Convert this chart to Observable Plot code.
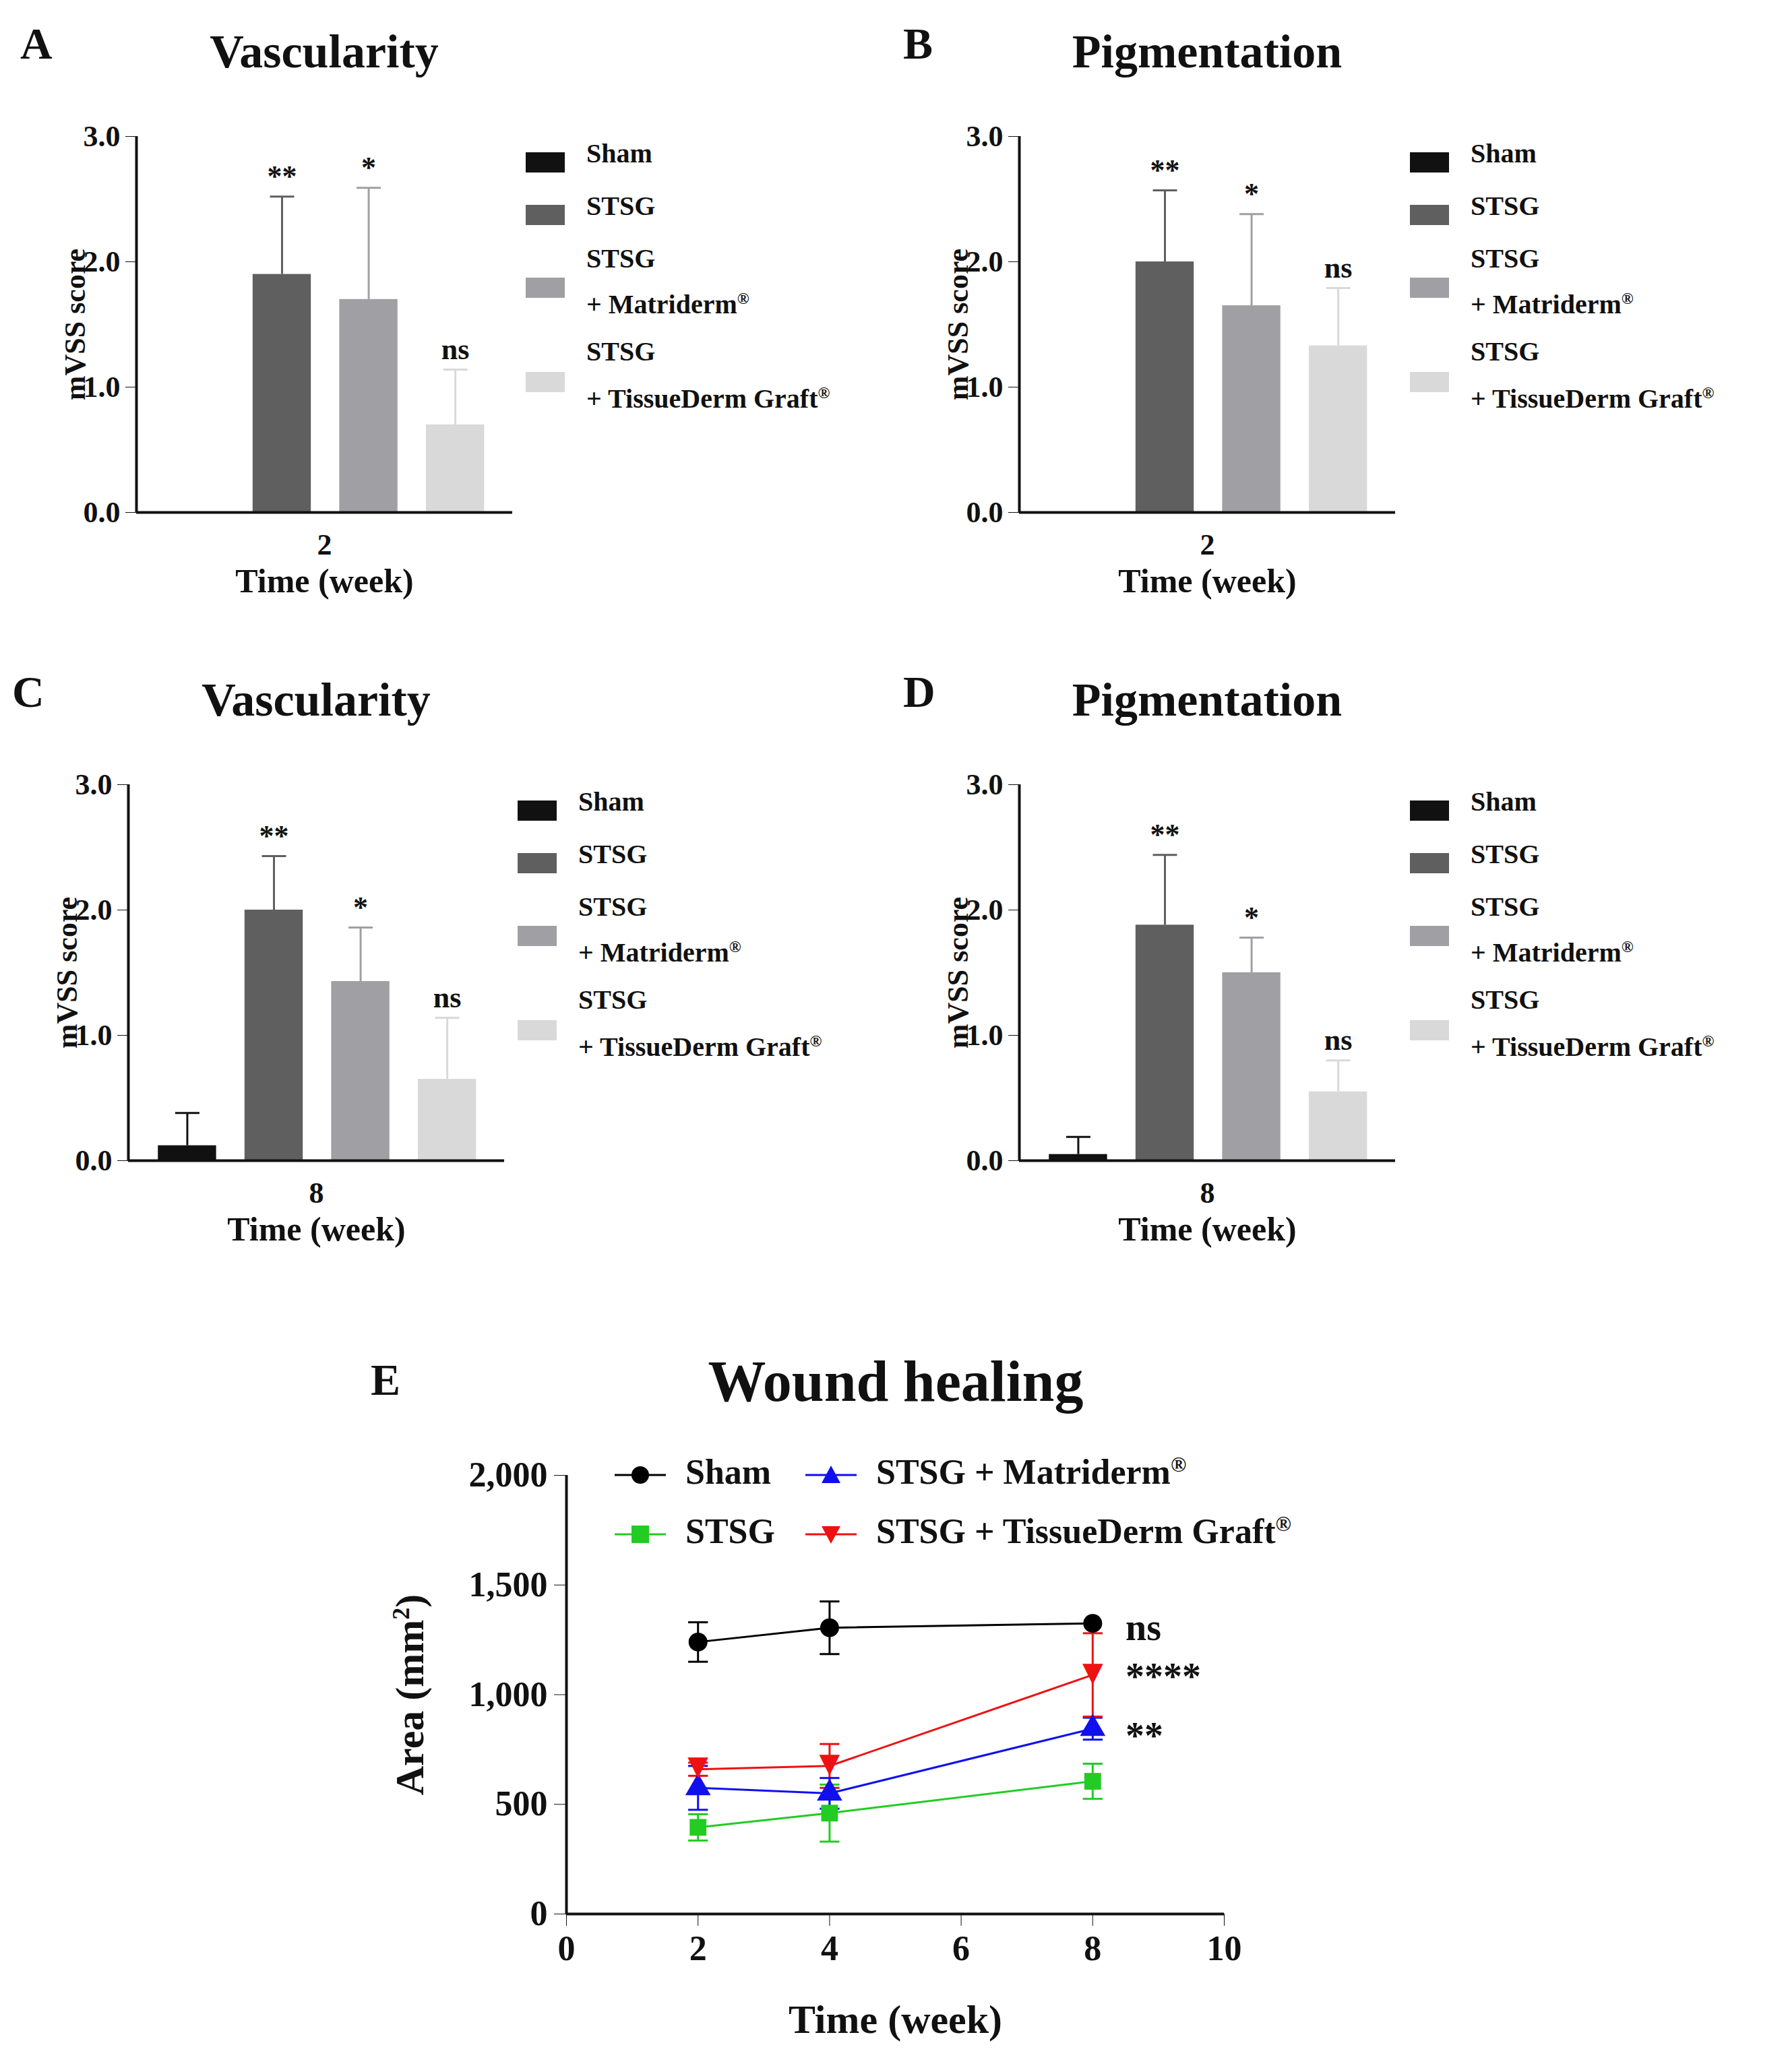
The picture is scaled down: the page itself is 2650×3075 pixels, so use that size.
<!DOCTYPE html>
<html><head><meta charset="utf-8">
<script src="https://cdn.jsdelivr.net/npm/d3@7"></script>
<script src="https://cdn.jsdelivr.net/npm/@observablehq/plot@0.6"></script>
<style>
body{margin:0;background:#fff;font-family:"Liberation Serif",serif;}
#root{position:relative;width:2650px;height:3075px;}
.abs{position:absolute;font-weight:bold;color:#111;white-space:nowrap;}
.ctr{transform:translateX(-50%);}
svg{overflow:visible}
</style></head><body><div id="root"></div>
<script>
const groups = ["Sham","STSG","STSG + Matriderm®","STSG + TissueDerm Graft®"];
const barColors = ["#111111","#5f5f5f","#a0a0a4","#d9d9d9"];
const vasc2Mean = [0, 1.9, 1.7, 0.7];
const vasc2Err  = [0, 0.62, 0.89, 0.44];
const vasc2Sig  = ["", "**", "*", "ns"];
const pig2Mean  = [0, 2.0, 1.65, 1.33];
const pig2Err   = [0, 0.57, 0.73, 0.46];
const pig2Sig   = ["", "**", "*", "ns"];
const vasc8Mean = [0.12, 2.0, 1.43, 0.65];
const vasc8Err  = [0.26, 0.43, 0.43, 0.49];
const vasc8Sig  = ["", "**", "*", "ns"];
const pig8Mean  = [0.05, 1.88, 1.5, 0.55];
const pig8Err   = [0.14, 0.56, 0.28, 0.25];
const pig8Sig   = ["", "**", "*", "ns"];
const weeks = [2, 4, 8];
const woundSeries = ["Sham","STSG","STSG + Matriderm®","STSG + TissueDerm Graft®"];
const woundColors = ["#000000","#22cc22","#1010ee","#ee1111"];
const woundMean = [[1240,1305,1325],[395,460,605],[575,550,845],[660,675,1090]];
const woundErr  = [[90,120,0],[60,130,80],[100,70,50],[30,100,190]];
const woundSig  = ["ns","","**","****"];
const yTicksBar = [0,1,2,3];
const yTicksE = [0,500,1000,1500,2000];
const xTicksE = [0,2,4,6,8,10];

const root = document.getElementById("root");
function addDiv(html, x, y, size, cls="", extra=""){
  const d=document.createElement("div"); d.className="abs "+cls; d.innerHTML=html;
  d.style.cssText+=`left:${x}px;top:${y}px;font-size:${size}px;${extra}`;
  root.appendChild(d); return d;
}
function sup(t){return t.replace("®","<sup style='font-size:0.6em'>®</sup>");}

function barPanel(letter,title,axisX,topY,mean,err,sig,week,legX){
  const rows = groups.map((g,i)=>({i,g,m:mean[i],e:err[i],s:sig[i],c:barColors[i]}));
  const ml=130, mt=40, mr=10, mb=200, pw=558, ph=558;
  const p = Plot.plot({
    width:pw+ml+mr, height:ph+mt+mb, marginLeft:ml, marginTop:mt, marginRight:mr, marginBottom:mb,
    style:{fontFamily:"Liberation Serif", fontWeight:"bold", fontSize:"44px", color:"#111", background:"transparent"},
    x:{domain:[-0.68,3.66], axis:null},
    y:{domain:[0,3]},
    marks:[
      Plot.rectY(rows.filter(d=>d.m>0),{x1:d=>d.i-0.336,x2:d=>d.i+0.336,y1:0,y2:"m",fill:"c"}),
      Plot.ruleX(rows.filter(d=>d.e>0),{x:"i",y1:"m",y2:d=>d.m+d.e,stroke:"c",strokeWidth:3}),
      Plot.link(rows.filter(d=>d.e>0),{x1:d=>d.i-0.14,x2:d=>d.i+0.14,y1:d=>d.m+d.e,y2:d=>d.m+d.e,stroke:"c",strokeWidth:3}),
      Plot.text(rows,{x:"i",y:d=>d.m+d.e,text:"s",dy:-30,fontSize:44,fontWeight:d=>d.s==="ns"?"bold":"normal",fill:"#111"}),
      Plot.axisY({ticks:yTicksBar,tickSize:16,tickWidth:3,tickPadding:8,label:"mVSS score",labelAnchor:"center",labelArrow:"none",labelOffset:108,fontSize:44}),
      Plot.ruleX([-0.68],{stroke:"#111",strokeWidth:4}),
      Plot.ruleY([0],{stroke:"#111",strokeWidth:4}),
      Plot.text([week],{frameAnchor:"bottom",dy:62,text:d=>d,fontSize:44,fill:"#111"}),
      Plot.text(["Time (week)"],{frameAnchor:"bottom",dy:118,fontSize:50,fill:"#111"})
    ]
  });
  p.style.position="absolute"; p.style.left=(axisX-ml)+"px"; p.style.top=(topY-mt)+"px";
  root.appendChild(p);
  addDiv(letter, axisX-172, topY-175, 66);
  addDiv(title, axisX+279, topY-165, 70, "ctr");
  const ys=[[topY+26],[topY+104],[topY+182,topY+250],[topY+320,topY+390]];
  const sy=[topY+24,topY+102,topY+210,topY+350];
  groups.forEach((g,i)=>{
    const sw=document.createElement("div");
    sw.style.cssText=`position:absolute;left:${legX}px;top:${sy[i]}px;width:58px;height:30px;background:${barColors[i]}`;
    root.appendChild(sw);
    if(i<2) addDiv(g, legX+90, ys[i][0]-24, 40);
    else { addDiv("STSG", legX+90, ys[i][0]-24, 40); addDiv(sup(g.replace("STSG ","")), legX+90, ys[i][1]-24, 40); }
  });
}
barPanel("A","Vascularity",202,202,vasc2Mean,vasc2Err,vasc2Sig,"2",780);
barPanel("B","Pigmentation",1512,202,pig2Mean,pig2Err,pig2Sig,"2",2092);
barPanel("C","Vascularity",190,1164,vasc8Mean,vasc8Err,vasc8Sig,"8",768);
barPanel("D","Pigmentation",1512,1164,pig8Mean,pig8Err,pig8Sig,"8",2092);

// Panel E
const pts=[]; woundSeries.forEach((s,k)=>weeks.forEach((w,j)=>pts.push({s,k,w,m:woundMean[k][j],e:woundErr[k][j],c:woundColors[k]})));
const ml=200, mt=40, mr=40, mb=250;
const symbols=["circle","square","triangle",null];
const pE = Plot.plot({
  width:976+ml+mr, height:651+mt+mb, marginLeft:ml, marginTop:mt, marginRight:mr, marginBottom:mb,
  style:{fontFamily:"Liberation Serif", fontWeight:"bold", fontSize:"52px", color:"#111", background:"transparent"},
  x:{domain:[0,10]}, y:{domain:[0,2000]},
  marks:[
    Plot.ruleX(pts.filter(d=>d.e>0),{x:"w",y1:d=>d.m-d.e,y2:d=>d.m+d.e,stroke:"c",strokeWidth:3}),
    Plot.link(pts.filter(d=>d.e>0),{x1:d=>d.w-0.15,x2:d=>d.w+0.15,y1:d=>d.m+d.e,y2:d=>d.m+d.e,stroke:"c",strokeWidth:3}),
    Plot.link(pts.filter(d=>d.e>0),{x1:d=>d.w-0.15,x2:d=>d.w+0.15,y1:d=>d.m-d.e,y2:d=>d.m-d.e,stroke:"c",strokeWidth:3}),
    Plot.line(pts,{x:"w",y:"m",z:"s",stroke:"c",strokeWidth:3}),
    ...[0,1,2].map(k=>Plot.dot(pts.filter(d=>d.k===k),{x:"w",y:"m",fill:"c",r:14,symbol:()=>symbols[k]})),
    Plot.text(pts.filter(d=>d.k===3),{x:"w",y:"m",text:()=>"▼",fill:"c",fontSize:40,fontFamily:"DejaVu Sans",dy:-4}),
    Plot.text(woundSeries.map((s,k)=>({k,t:woundSig[k],y:woundMean[k][2]})).filter(d=>d.t),{x:8.5,y:d=>d.y+(d.t==="ns"?-20:d.t==="**"?-35:-10),text:"t",textAnchor:"start",fontSize:56,fill:"#111"}),
    Plot.axisY({ticks:yTicksE,tickSize:18,tickWidth:4,tickPadding:10,label:null,fontSize:52}),
    Plot.axisX({ticks:xTicksE,tickSize:18,tickWidth:4,tickPadding:14,label:null,fontSize:52}),
    Plot.ruleX([0],{stroke:"#111",strokeWidth:4}),
    Plot.ruleY([0],{stroke:"#111",strokeWidth:4}),
    Plot.text(["Time (week)"],{frameAnchor:"bottom",dy:176,fontSize:60,fill:"#111"})
  ]
});
pE.style.position="absolute"; pE.style.left=(840-ml)+"px"; pE.style.top=(2189-mt)+"px";
root.appendChild(pE);
const yl=addDiv("Area (mm<sup style='font-size:0.6em'>2</sup>)",608,2515,60,"","transform:translate(-50%,-50%) rotate(-90deg);");
addDiv("E",550,2010,66);
addDiv("Wound healing",1329,2000,86,"ctr");
// legend E
const legE=[[0,912,2189],[1,912,2277],[2,1195,2189],[3,1195,2277]];
const mk=["<circle cx='38' cy='20' r='13' fill='#000'/>","<rect x='25' y='7' width='26' height='26' fill='#22cc22'/>","<path d='M38,6 L52,32 L24,32Z' fill='#1010ee'/>","<path d='M24,8 L52,8 L38,34Z' fill='#ee1111'/>"];
legE.forEach(([k,x,y])=>{
  const s=document.createElementNS("http://www.w3.org/2000/svg","svg");
  s.setAttribute("width",76);s.setAttribute("height",40);
  s.innerHTML=`<line x1='0' y1='20' x2='76' y2='20' stroke='${woundColors[k]}' stroke-width='3'/>`+mk[k];
  s.style.cssText=`position:absolute;left:${x}px;top:${y-20}px`;
  root.appendChild(s);
  addDiv(sup(woundSeries[k]), x+105, y-34, 52);
});
</script></body></html>
